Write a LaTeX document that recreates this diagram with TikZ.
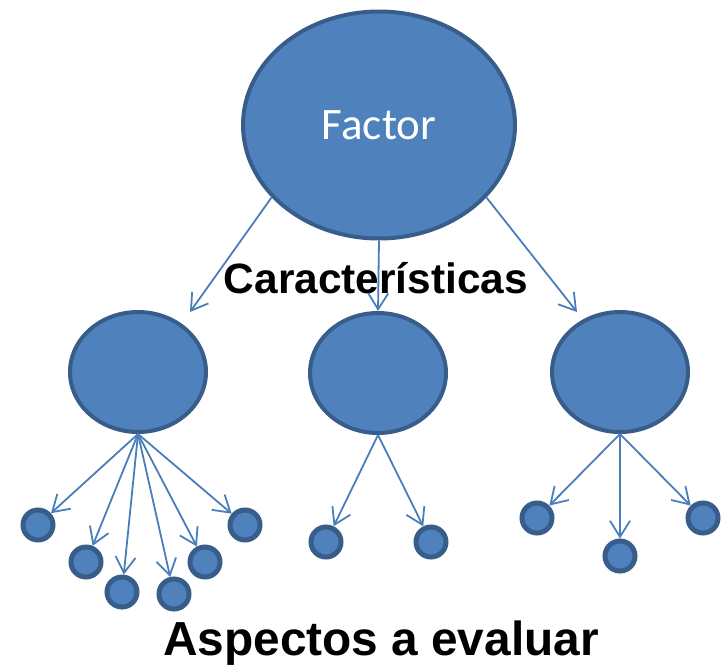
\documentclass[tikz,border=0pt]{standalone}
\usepackage{fontspec}
\setmainfont{Liberation Sans}
\newfontfamily\carlito{Carlito}
\usetikzlibrary{shapes.geometric,arrows.meta}
\definecolor{fillb}{HTML}{4F81BD}
\definecolor{edgeb}{HTML}{385D8A}
\definecolor{lineb}{HTML}{4A7EBB}
\begin{document}
\begin{tikzpicture}[x=1pt,y=-1pt,
  ellnode/.style={ellipse,fill=fillb,draw=edgeb,line width=4pt,inner sep=0pt},
  smallc/.style={circle,fill=fillb,draw=edgeb,line width=5pt,minimum size=30pt,inner sep=0pt},
  conn/.style={draw=lineb,line width=1.8pt,-{Straight Barb[length=16pt,width=20pt]}},
  lbl/.style={anchor=base,text=black}]
\useasboundingbox (0,0) rectangle (725,665);
% big ellipse
\node[ellnode,minimum width=272pt,minimum height=227pt,text=white,
      font=\carlito\fontsize{45}{50}\selectfont] (F) at (379,125) {Factor};
% middle ellipses
\node[ellnode,minimum width=136pt,minimum height=120pt] (L) at (138,372) {};
\node[ellnode,minimum width=136pt,minimum height=120pt] (M) at (378,373) {};
\node[ellnode,minimum width=136pt,minimum height=120pt] (R) at (620,372) {};
% small circles
\node[smallc] (a1) at (38,525) {};
\node[smallc] (a2) at (86,562) {};
\node[smallc] (a3) at (122,592) {};
\node[smallc] (a4) at (174,594) {};
\node[smallc] (a5) at (205,562) {};
\node[smallc] (a6) at (245,525) {};
\node[smallc] (b1) at (326,542) {};
\node[smallc] (b2) at (431,542) {};
\node[smallc] (c1) at (537,518) {};
\node[smallc] (c2) at (620,556) {};
\node[smallc] (c3) at (703,518) {};
% labels
\node[lbl,font=\bfseries\fontsize{42.4}{46}\selectfont] (car) at (376,293) {Características};
\node[lbl,font=\bfseries\fontsize{47.8}{52}\selectfont] (asp) at (381,655) {Aspectos a evaluar};
% arrow tip coordinates
\coordinate (tl) at (190,312);
\coordinate (tr) at (577,312);
% connectors from factor
\draw[conn] (F.214) -- (tl);
\draw[conn] (F.south) -- (M.north);
\draw[conn] (F.326) -- (tr);
% connectors to aspects
\foreach \t in {a1,a2,a3,a4,a5,a6} \draw[conn] (L.south) -- (\t);
\foreach \t in {b1,b2} \draw[conn] (M.south) -- (\t);
\foreach \t in {c1,c2,c3} \draw[conn] (R.south) -- (\t);
\end{tikzpicture}
\end{document}
